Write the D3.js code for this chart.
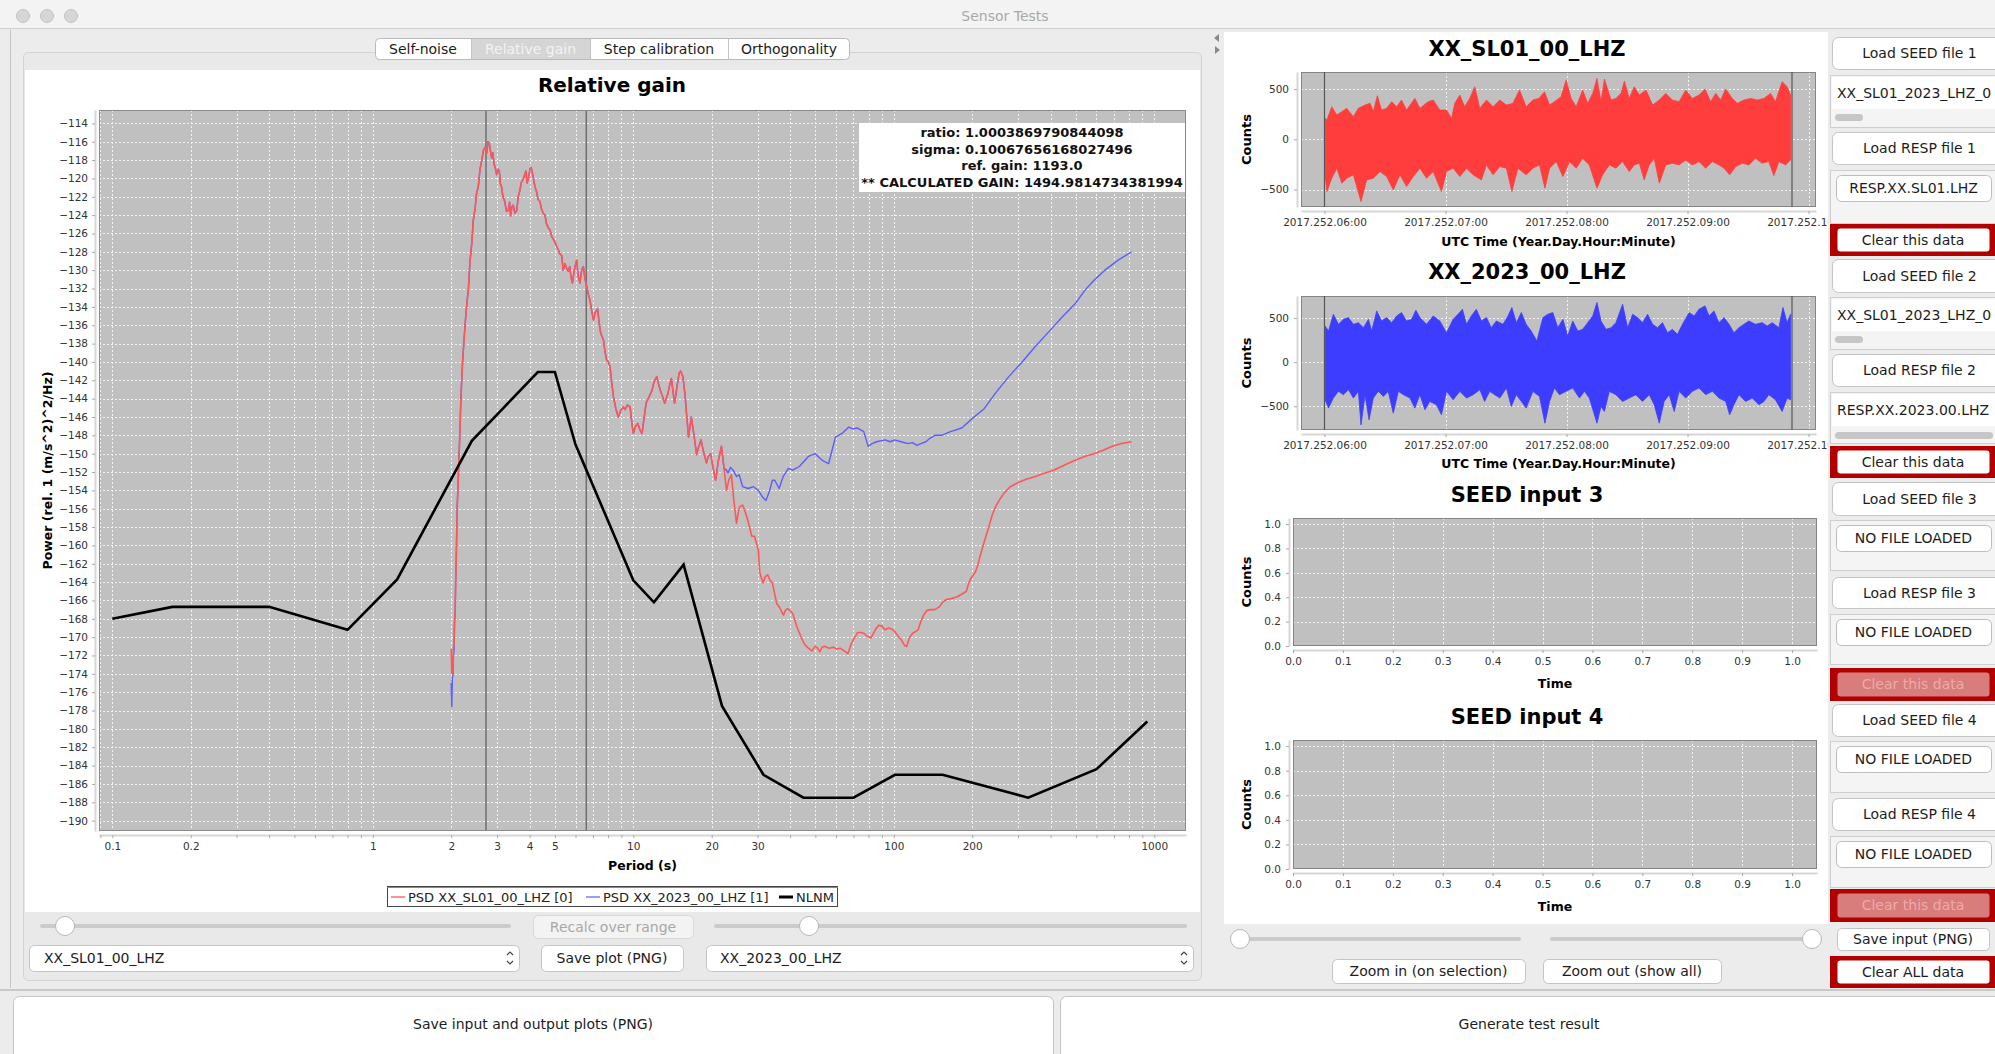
<!DOCTYPE html>
<html>
<head>
<meta charset="utf-8">
<script src="https://cdn.jsdelivr.net/npm/d3@7"></script>
<style>
body{margin:0;background:#ececec;overflow:hidden}
svg{display:block;font-family:"DejaVu Sans",sans-serif}
</style>
</head>
<body>
<script>
// ---- PSD data, period (s) / power (dB) ----
var redStart = [[2.00,-171.3],[2.01,-173.9],[2.02,-172.2],[2.03,-174.0],[2.04,-171.0],[2.05,-170.9],[2.06,-168.0]];
var blueStart = [[2.00,-175.0],[2.01,-177.6],[2.02,-174.5],[2.03,-174.2],[2.04,-172.0],[2.05,-171.4],[2.06,-168.4]];
// both sensors overlap here
var psdShared = [[2.07,-167.6],[2.08,-164.0],[2.09,-161.8],[2.10,-158.5],[2.11,-155.7],[2.13,-152.5],[2.14,-150.8],[2.16,-147.6],[2.17,-145.5],[2.19,-142.5],[2.21,-140.1],[2.23,-138.4],[2.26,-136.0],[2.29,-134.0],[2.33,-131.9],[2.36,-129.1],[2.40,-127.0],[2.43,-124.6],[2.47,-123.3],[2.50,-121.7],[2.54,-120.9],[2.58,-119.0],[2.62,-118.0],[2.66,-116.9],[2.70,-116.6],[2.74,-117.2],[2.77,-116.0],[2.80,-116.2],[2.83,-117.0],[2.86,-117.8],[2.89,-117.2],[2.92,-118.4],[2.96,-119.0],[2.99,-119.6],[3.03,-119.0],[3.06,-119.2],[3.09,-120.6],[3.12,-120.9],[3.16,-122.0],[3.21,-122.5],[3.26,-123.6],[3.31,-123.5],[3.35,-122.6],[3.38,-124.1],[3.42,-123.1],[3.46,-122.9],[3.51,-123.8],[3.57,-123.5],[3.62,-121.9],[3.67,-121.3],[3.72,-120.4],[3.78,-120.1],[3.83,-119.6],[3.87,-119.2],[3.91,-120.5],[3.95,-120.1],[4.01,-119.0],[4.05,-118.8],[4.10,-119.4],[4.15,-120.2],[4.19,-120.9],[4.25,-121.4],[4.31,-122.3],[4.38,-122.5],[4.44,-123.3],[4.51,-123.8],[4.58,-124.0],[4.64,-124.9],[4.72,-125.4],[4.79,-125.6],[4.86,-126.3],[4.93,-126.6],[5.01,-127.0],[5.08,-127.4],[5.16,-127.8],[5.22,-128.2],[5.31,-128.4],[5.38,-130.0],[5.47,-129.3],[5.55,-129.8],[5.63,-130.1],[5.70,-129.6],[5.77,-130.8],[5.84,-131.4],[5.92,-130.2],[6.00,-129.4],[6.06,-128.9],[6.14,-130.6],[6.24,-131.4],[6.33,-130.0],[6.43,-129.6],[6.53,-131.0],[6.63,-131.8],[6.72,-132.6],[6.82,-133.3],[6.93,-134.5],[7.03,-135.4],[7.15,-134.6],[7.29,-134.2],[7.40,-135.8],[7.50,-136.9],[7.58,-137.2],[7.68,-137.6],[7.80,-139.0],[7.90,-139.8],[8.02,-140.0],[8.14,-140.5],[8.26,-142.2],[8.39,-143.8],[8.57,-145.1],[8.76,-146.0],[8.95,-145.3],[9.15,-144.9],[9.30,-145.2],[9.49,-144.7],[9.72,-144.9],[9.86,-146.5],[10.0,-147.8],[10.2,-147.0],[10.4,-146.7],[10.6,-147.4],[10.8,-147.8],[11.0,-146.1],[11.2,-144.5],[11.5,-143.8],[11.8,-143.1],[12.0,-142.2],[12.3,-141.6],[12.5,-142.4],[12.7,-143.1],[13.0,-143.9],[13.2,-144.5],[13.4,-143.9],[13.6,-143.4],[13.8,-142.5],[14.0,-141.8],[14.2,-143.2],[14.4,-144.5],[14.7,-142.8],[15.0,-141.2],[15.2,-141.0],[15.5,-141.6],[15.8,-143.6],[16.0,-145.6],[16.3,-148.2],[16.7,-146.0],[17.1,-148.0],[17.5,-150.1],[17.8,-149.3],[18.2,-148.5],[18.6,-149.8],[19.1,-151.0],[19.4,-150.3],[19.8,-150.0],[20.2,-151.4],[20.7,-152.9],[21.2,-150.8],[21.8,-149.2],[22.3,-151.6]];
var redTail = [[22.8,-154.0],[23.3,-152.8],[23.8,-152.3],[24.3,-155.0],[24.9,-157.6],[25.3,-156.4],[25.6,-155.8],[26.3,-155.6],[27.0,-156.5],[27.6,-157.4],[28.5,-159.0],[29.2,-159.0],[30.2,-160.5],[30.6,-163.0],[31.1,-163.6],[31.5,-164.1],[32.1,-163.4],[32.8,-163.2],[33.5,-163.8],[34.2,-164.1],[35.5,-166.3],[36.5,-166.8],[37.7,-167.6],[38.5,-167.0],[39.2,-166.9],[40.9,-167.4],[42.5,-168.9],[44.2,-170.1],[45.5,-170.8],[47.0,-171.2],[48.5,-171.5],[49.9,-171.0],[51.0,-171.2],[52.0,-171.6],[53.0,-171.1],[54.2,-171.0],[56.5,-171.2],[58.6,-171.1],[60.5,-171.3],[62.2,-171.2],[64.5,-171.5],[66.7,-171.8],[68.5,-170.8],[69.9,-170.3],[72.6,-169.5],[75.0,-169.5],[77.0,-169.6],[79.0,-169.9],[81.6,-170.1],[84.9,-169.2],[87.5,-168.7],[90.0,-168.8],[92.5,-169.2],[95.4,-169.0],[98.0,-169.1],[100.9,-169.4],[104.0,-169.9],[106.9,-170.3],[110.0,-170.9],[112.1,-171.0],[115.0,-170.0],[118.0,-169.6],[124.0,-169.2],[127.0,-168.3],[130.2,-167.6],[134.0,-167.1],[138.3,-167.0],[143.5,-167.0],[149.6,-166.7],[154.0,-166.2],[158.7,-165.9],[166.0,-165.8],[175.3,-165.6],[183.0,-165.3],[189.9,-165.0],[193.5,-164.2],[197.7,-163.6],[205.7,-162.9],[210.0,-162.2],[214.3,-161.2],[222.5,-159.6],[231.6,-158.0],[238.0,-156.8],[245.6,-155.8],[255.0,-155.0],[265.0,-154.3],[280.0,-153.6],[298.0,-153.2],[322.0,-152.8],[350.0,-152.5],[380.0,-152.1],[411.0,-151.8],[455.0,-151.2],[499.0,-150.7],[540.0,-150.3],[587.0,-150.0],[640.0,-149.6],[690.0,-149.2],[750.0,-148.9],[818.0,-148.7]];
var blueTail = [[22.8,-151.8],[23.1,-152.1],[23.6,-151.5],[24.2,-151.8],[24.9,-152.5],[25.5,-152.3],[26.3,-153.6],[27.6,-153.8],[28.9,-153.6],[30.2,-154.0],[31.3,-154.7],[32.3,-155.1],[33.3,-154.1],[34.2,-152.9],[34.9,-152.9],[36.3,-153.8],[37.6,-152.5],[39.4,-151.6],[40.9,-151.8],[43.4,-151.4],[45.0,-150.9],[47.0,-150.3],[49.9,-150.0],[53.0,-150.7],[56.2,-151.1],[58.0,-149.6],[59.7,-148.2],[63.3,-147.8],[67.2,-147.1],[69.5,-147.3],[72.3,-147.2],[76.7,-147.6],[79.7,-149.2],[82.5,-148.9],[85.8,-148.7],[92.6,-148.5],[97.0,-148.7],[100.6,-148.5],[106.7,-148.7],[113.3,-148.9],[118.0,-148.8],[122.6,-149.1],[127.0,-148.9],[132.8,-148.7],[138.0,-148.3],[143.8,-148.0],[152.6,-148.0],[165.1,-147.6],[182.4,-147.2],[201.4,-146.1],[222.4,-145.1],[245.6,-143.4],[276.4,-141.6],[311.0,-140.0],[350.0,-138.3],[394.0,-136.7],[443.0,-135.1],[499.0,-133.6],[541.0,-132.2],[587.0,-131.1],[646.0,-130.0],[727.0,-128.9],[818.0,-128.0]];
// NLNM
var nlnmPeriod = [0.1,0.17,0.4,0.8,1.24,2.4,4.3,5.0,6.0,10.0,12.0,15.6,21.9,31.6,45,70,101,154,328,600,940];
var nlnmPower = [-168.0,-166.7,-166.7,-169.2,-163.7,-148.6,-141.1,-141.1,-149.0,-163.8,-166.2,-162.1,-177.5,-185.0,-187.5,-187.5,-185.0,-185.0,-187.5,-184.4,-179.2];
var rangeMarkers = [2.72, 6.6];
var periodLabels = [0.1,0.2,1,2,3,4,5,10,20,30,100,200,1000];
var resultLines = ["ratio: 1.0003869790844098","sigma: 0.10067656168027496","ref. gain: 1193.0","** CALCULATED GAIN: 1494.9814734381994"];
var legendNames = ["PSD XX_SL01_00_LHZ [0]","PSD XX_2023_00_LHZ [1]","NLNM"];

// ---- input traces: envelope [minutes after 2017.252.06:00, counts] ----
var redTop = [[0.3,209],[1.2,192],[3.6,324],[6.1,242],[8.6,275],[11.0,308],[14.3,225],[16.8,308],[20.1,341],[22.6,358],[24.2,275],[26.2,434],[28.3,291],[30.8,308],[33.3,374],[35.8,324],[38.2,391],[40.7,291],[44.8,407],[47.3,308],[51.4,374],[53.9,391],[57.2,291],[60.5,291],[63.0,209],[64.6,358],[67.1,440],[69.5,324],[72.0,407],[74.5,523],[77.0,308],[80.3,391],[83.6,324],[86.9,391],[90.2,341],[93.4,358],[96.7,490],[100.0,324],[103.3,391],[106.3,407],[109.1,473],[111.6,341],[114.0,374],[117.3,424],[119.8,589],[122.3,407],[124.8,324],[128.0,490],[130.5,358],[133.0,457],[135.1,606],[137.1,374],[138.8,599],[142.1,391],[144.5,407],[147.0,457],[148.7,579],[151.1,407],[153.6,523],[156.1,440],[159.4,490],[162.7,341],[166.0,391],[169.2,457],[172.5,391],[175.8,374],[179.1,490],[182.4,407],[185.7,440],[188.7,500],[191.5,374],[194.0,457],[196.4,391],[198.9,500],[202.2,407],[204.7,358],[208.0,391],[211.3,407],[214.6,391],[217.9,407],[221.2,457],[223.6,374],[226.9,573],[229.4,523],[231.1,440]];
var redBottom = [[0.3,-354],[1.2,-520],[3.6,-387],[6.1,-288],[8.6,-437],[11.0,-387],[14.3,-354],[18.1,-619],[20.9,-404],[24.2,-387],[27.5,-321],[30.8,-371],[34.1,-503],[37.4,-354],[40.7,-470],[44.0,-371],[47.3,-288],[50.6,-387],[53.9,-321],[58.0,-520],[60.5,-321],[63.8,-288],[67.1,-371],[70.4,-288],[73.7,-354],[77.8,-404],[80.3,-255],[83.6,-354],[86.9,-272],[90.2,-288],[92.9,-520],[95.9,-288],[100.0,-354],[103.3,-288],[106.6,-255],[109.3,-487],[111.6,-288],[114.9,-222],[118.2,-371],[121.5,-222],[124.8,-288],[128.0,-189],[131.3,-255],[135.1,-487],[137.9,-354],[141.2,-255],[144.5,-288],[147.8,-222],[151.1,-321],[153.6,-255],[156.1,-238],[158.5,-404],[161.0,-255],[163.5,-189],[166.0,-437],[169.2,-255],[172.5,-238],[175.8,-255],[179.1,-205],[182.4,-255],[185.7,-222],[189.0,-288],[192.3,-222],[195.6,-255],[198.1,-288],[200.9,-354],[203.9,-272],[207.2,-238],[210.4,-255],[213.7,-189],[217.0,-238],[220.3,-222],[222.8,-361],[225.3,-222],[228.6,-255],[231.1,-205]];
var blueTop = [[0.3,410],[2.0,353],[4.4,543],[6.9,429],[9.4,486],[11.9,505],[14.3,429],[16.8,448],[19.3,391],[21.8,486],[23.4,353],[25.9,581],[28.3,467],[30.8,505],[33.3,448],[35.8,524],[38.2,562],[40.7,467],[43.2,486],[45.3,589],[47.3,505],[50.6,429],[53.9,524],[57.2,467],[60.5,334],[63.8,486],[66.2,543],[68.4,600],[70.4,429],[72.8,524],[75.3,600],[77.8,467],[80.3,505],[82.7,391],[85.2,467],[88.5,429],[91.0,524],[92.9,619],[95.1,448],[97.6,562],[100.0,429],[102.5,353],[105.3,239],[108.3,505],[110.7,543],[113.2,562],[115.7,391],[118.2,486],[120.6,296],[123.1,467],[125.6,353],[128.0,372],[130.5,448],[133.0,524],[135.1,676],[137.1,467],[139.6,372],[142.1,391],[144.5,448],[147.8,657],[150.3,391],[152.8,543],[155.2,505],[157.7,448],[160.2,543],[162.7,429],[165.1,391],[167.6,448],[170.1,334],[172.5,372],[175.0,315],[177.5,429],[180.8,562],[183.3,524],[185.7,600],[188.7,638],[190.7,524],[193.1,581],[195.6,448],[198.1,505],[200.6,429],[203.0,334],[205.5,391],[208.0,429],[210.4,467],[213.7,429],[217.0,448],[219.5,410],[222.0,448],[225.3,391],[227.3,619],[229.4,448],[231.1,543]];
var blueBottom = [[0.3,-426],[2.0,-521],[4.4,-407],[6.9,-331],[9.4,-369],[11.9,-312],[14.3,-407],[16.8,-331],[18.1,-711],[20.1,-369],[22.1,-654],[24.2,-407],[26.7,-331],[29.2,-388],[31.6,-331],[34.1,-578],[36.6,-331],[39.1,-369],[42.4,-407],[44.8,-521],[47.3,-369],[49.8,-540],[52.2,-445],[55.5,-483],[58.0,-597],[60.5,-331],[63.8,-426],[67.1,-331],[70.4,-407],[73.7,-369],[77.0,-312],[79.4,-445],[81.9,-331],[84.4,-369],[86.9,-407],[90.2,-293],[92.6,-502],[95.1,-369],[97.6,-445],[100.0,-521],[103.3,-331],[106.6,-388],[109.3,-692],[111.6,-445],[114.0,-293],[116.5,-369],[119.8,-331],[123.1,-293],[126.4,-407],[128.9,-331],[131.3,-407],[135.1,-692],[137.1,-502],[138.8,-559],[141.2,-331],[144.5,-369],[147.8,-445],[151.1,-407],[154.4,-369],[157.7,-445],[161.0,-369],[163.5,-483],[166.0,-692],[168.4,-445],[170.9,-369],[173.4,-559],[175.8,-331],[179.1,-407],[182.4,-331],[185.7,-293],[189.0,-369],[192.3,-331],[195.6,-407],[198.9,-445],[200.9,-597],[203.0,-483],[205.5,-369],[208.8,-445],[212.1,-407],[215.4,-483],[217.9,-445],[220.3,-369],[223.6,-426],[226.9,-559],[229.4,-407],[231.1,-426]];
var traceMarkers = [0, 231.8];
var countTicks = [-500, 0, 500];
var unitTicks = [0,0.1,0.2,0.3,0.4,0.5,0.6,0.7,0.8,0.9,1.0];
var unitYTicks = [0,0.2,0.4,0.6,0.8,1.0];

var startTime = Date.UTC(2017, 8, 9, 6, 0); // 2017, day 252
function toDate(m){ return new Date(startTime + m * 60000); }

var svg = d3.select("body").append("svg").attr("width", 1995).attr("height", 1054);
var tickFont = "10.5px";
var uiFont = "14px";

// ---------- window chrome ----------
svg.append("rect").attr("width", 1995).attr("height", 1054).attr("fill", "#ececec");
svg.append("rect").attr("width", 1995).attr("height", 28).attr("fill", "#f3f3f3");
svg.append("line").attr("x1", 0).attr("x2", 1995).attr("y1", 28.5).attr("y2", 28.5).attr("stroke", "#cfcfcf");
[23, 47, 71].forEach(function(cx){
    svg.append("circle").attr("cx", cx).attr("cy", 16).attr("r", 6.5).attr("fill", "#d6d6d6").attr("stroke", "#c2c2c2");
});
svg.append("text").attr("x", 1005).attr("y", 21).attr("text-anchor", "middle")
    .attr("font-size", "14px").attr("fill", "#a9a9a9").text("Sensor Tests");

svg.append("line").attr("x1", 10.5).attr("x2", 10.5).attr("y1", 30).attr("y2", 988).attr("stroke", "#c4c4c4");

// tab pane + white chart panel
svg.append("rect").attr("x", 23.5).attr("y", 52.5).attr("width", 1178).attr("height", 928).attr("rx", 5)
    .attr("fill", "#e9e9e9").attr("stroke", "#d2d2d2");
svg.append("rect").attr("x", 25).attr("y", 70).attr("width", 1175).attr("height", 842).attr("fill", "#ffffff");

// tabs
var tabs = [["Self-noise",375,471],["Relative gain",471,590],["Step calibration",590,728],["Orthogonality",728,850]];
svg.append("rect").attr("x", 375.5).attr("y", 38.5).attr("width", 474).attr("height", 21).attr("rx", 4)
    .attr("fill", "#ffffff").attr("stroke", "#b9b9b9");
svg.append("rect").attr("x", 471).attr("y", 39).attr("width", 119).attr("height", 20).attr("fill", "#d5d5d5");
tabs.forEach(function(t, i){
    if (i > 0) svg.append("line").attr("x1", t[1] + 0.5).attr("x2", t[1] + 0.5).attr("y1", 39).attr("y2", 59).attr("stroke", "#c4c4c4");
    svg.append("text").attr("x", (t[1] + t[2]) / 2).attr("y", 54).attr("text-anchor", "middle")
        .attr("font-size", uiFont).attr("fill", i == 1 ? "#f2f2f2" : "#1c1c1c").text(t[0]);
});

// ---------- main chart: Relative gain ----------
var plot = {left: 99, top: 110, right: 1186, bottom: 831};
var mainX = d3.scaleLog().domain([0.0889, 1323.6]).range([plot.left, plot.right]);
var mainY = d3.scaleLinear().domain([-191.13, -112.54]).range([plot.bottom, plot.top]);

svg.append("text").attr("x", 612).attr("y", 92).attr("text-anchor", "middle")
    .attr("font-size", "20px").attr("font-weight", "bold").text("Relative gain");

svg.append("clipPath").attr("id", "mainClip").append("rect")
    .attr("x", plot.left).attr("y", plot.top).attr("width", plot.right - plot.left).attr("height", plot.bottom - plot.top);

svg.append("rect").attr("x", plot.left).attr("y", plot.top)
    .attr("width", plot.right - plot.left).attr("height", plot.bottom - plot.top).attr("fill", "#c0c0c0");

var xTicks = mainX.ticks().filter(function(d){ return d >= 0.0889 && d <= 1323.6; });
var yTicks = d3.range(-190, -113, 2);

var grid = svg.append("g").attr("stroke", "#ffffff").attr("stroke-dasharray", "2,2").attr("stroke-width", 1).attr("opacity", 0.8);
grid.selectAll(".vx").data(xTicks).enter().append("line")
    .attr("x1", function(d){ return Math.round(mainX(d)) + 0.5; }).attr("x2", function(d){ return Math.round(mainX(d)) + 0.5; })
    .attr("y1", plot.top).attr("y2", plot.bottom);
grid.selectAll(".hy").data(yTicks).enter().append("line")
    .attr("y1", function(d){ return Math.round(mainY(d)) + 0.5; }).attr("y2", function(d){ return Math.round(mainY(d)) + 0.5; })
    .attr("x1", plot.left).attr("x2", plot.right);

var marks = svg.append("g").attr("clip-path", "url(#mainClip)");
marks.selectAll(".marker").data(rangeMarkers).enter().append("line")
    .attr("x1", function(d){ return mainX(d); }).attr("x2", function(d){ return mainX(d); })
    .attr("y1", plot.top).attr("y2", plot.bottom).attr("stroke", "#6f6f6f").attr("stroke-width", 1.5);

var psdLine = d3.line().x(function(d){ return mainX(d[0]); }).y(function(d){ return mainY(d[1]); });
var bluePSD = blueStart.concat(psdShared, blueTail);
var redPSD = redStart.concat(psdShared, redTail);
var nlnm = nlnmPeriod.map(function(p, i){ return [p, nlnmPower[i]]; });

marks.append("path").datum(bluePSD).attr("d", psdLine).attr("fill", "none")
    .attr("stroke", "#5c5cff").attr("stroke-width", 1.4).attr("stroke-linejoin", "round");
marks.append("path").datum(redPSD).attr("d", psdLine).attr("fill", "none")
    .attr("stroke", "#ff5757").attr("stroke-width", 1.6).attr("stroke-linejoin", "round");
marks.append("path").datum(nlnm).attr("d", psdLine).attr("fill", "none")
    .attr("stroke", "#000000").attr("stroke-width", 2.6).attr("stroke-linejoin", "miter");

svg.append("rect").attr("x", plot.left + 0.5).attr("y", plot.top + 0.5)
    .attr("width", plot.right - plot.left - 1).attr("height", plot.bottom - plot.top - 1)
    .attr("fill", "none").attr("stroke", "#8a8a8a");

function styleAxis(g){
    g.select(".domain").attr("stroke", "#d6d6d6").attr("stroke-width", 2);
    g.selectAll(".tick line").attr("stroke", "#a8a8a8");
    g.selectAll(".tick text").attr("font-family", "DejaVu Sans").attr("font-size", tickFont).attr("fill", "#333");
}

var labelled = function(d){
    return periodLabels.some(function(v){ return Math.abs(v - d) < 1e-9 * Math.max(1, v); });
};
var xAxis = svg.append("g").attr("transform", "translate(0," + (plot.bottom + 4) + ")")
    .call(d3.axisBottom(mainX).tickValues(xTicks).tickSizeInner(3).tickSizeOuter(0).tickPadding(5)
        .tickFormat(function(d){ return labelled(d) ? d3.format("~g")(d) : ""; }));
styleAxis(xAxis);
var yAxis = svg.append("g").attr("transform", "translate(" + (plot.left - 4) + ",0)")
    .call(d3.axisLeft(mainY).tickValues(yTicks).tickSizeInner(3).tickSizeOuter(0).tickPadding(4));
styleAxis(yAxis);

svg.append("text").attr("x", (plot.left + plot.right) / 2).attr("y", 869.5).attr("text-anchor", "middle")
    .attr("font-size", "12.5px").attr("font-weight", "bold").text("Period (s)");
svg.append("text").attr("transform", "translate(51.5," + (plot.top + plot.bottom) / 2 + ") rotate(-90)")
    .attr("text-anchor", "middle").attr("font-size", "12.5px").attr("font-weight", "bold")
    .text("Power (rel. 1 (m/s^2)^2/Hz)");

// result text box
svg.append("rect").attr("x", 859).attr("y", 123).attr("width", 326).attr("height", 69).attr("fill", "#ffffff");
svg.selectAll(".result").data(resultLines).enter().append("text")
    .attr("x", 1022).attr("y", function(d, i){ return 137 + i * 16.5; }).attr("text-anchor", "middle")
    .attr("font-size", "13px").attr("font-weight", "bold").attr("fill", "#111").text(function(d){ return d; });

// legend
var legendItems = [
    {name: legendNames[0], color: "#ff6b6b", w: 1.5, x: 391},
    {name: legendNames[1], color: "#7b7bff", w: 1.5, x: 586},
    {name: legendNames[2], color: "#000000", w: 3, x: 779}
];
svg.append("rect").attr("x", 387.5).attr("y", 886.5).attr("width", 450).attr("height", 20)
    .attr("fill", "#ffffff").attr("stroke", "#444").attr("stroke-width", 1);
svg.append("line").attr("x1", 387).attr("x2", 838).attr("y1", 887.5).attr("y2", 887.5).attr("stroke", "#888");
legendItems.forEach(function(it){
    svg.append("line").attr("x1", it.x).attr("x2", it.x + 14).attr("y1", 897).attr("y2", 897)
        .attr("stroke", it.color).attr("stroke-width", it.w);
    svg.append("text").attr("x", it.x + 17).attr("y", 901.5).attr("font-size", "13px").attr("fill", "#222").text(it.name);
});

// ---------- controls below main chart ----------
function slider(x0, x1, y, knob){
    svg.append("line").attr("x1", x0).attr("x2", x1).attr("y1", y).attr("y2", y)
        .attr("stroke", "#cbcbcb").attr("stroke-width", 4).attr("stroke-linecap", "round");
    svg.append("circle").attr("cx", knob).attr("cy", y).attr("r", 9.5).attr("fill", "#ffffff").attr("stroke", "#b8b8b8");
}
function button(x, y, w, h, label, opt){
    opt = opt || {};
    svg.append("rect").attr("x", x + 0.5).attr("y", y + 0.5).attr("width", w).attr("height", h).attr("rx", opt.rx || 5)
        .attr("fill", opt.fill || "#ffffff").attr("stroke", opt.stroke || "#c4c4c4");
    svg.append("text").attr("x", opt.tx || x + w / 2).attr("y", opt.ty || y + h / 2 + 5)
        .attr("text-anchor", opt.anchor || "middle").attr("font-size", opt.size || uiFont)
        .attr("fill", opt.color || "#1c1c1c").text(label);
}
function chevrons(x, y){
    svg.append("path").attr("d", "M" + (x - 3) + "," + (y - 3) + "L" + x + "," + (y - 6) + "L" + (x + 3) + "," + (y - 3)
        + "M" + (x - 3) + "," + (y + 3) + "L" + x + "," + (y + 6) + "L" + (x + 3) + "," + (y + 3))
        .attr("fill", "none").attr("stroke", "#444").attr("stroke-width", 1.2);
}
slider(42, 509, 926, 65);
button(533, 915, 160, 23, "Recalc over range", {fill: "#f3f3f3", stroke: "#d8d8d8", color: "#a8a8a8"});
slider(716, 1185, 926, 809);
button(29, 945, 490, 26, "XX_SL01_00_LHZ", {anchor: "start", tx: 44});
chevrons(510, 958);
button(541, 945, 142, 26, "Save plot (PNG)");
button(706, 945, 487, 26, "XX_2023_00_LHZ", {anchor: "start", tx: 720});
chevrons(1184, 958);

// ---------- right side: input panel ----------
svg.append("rect").attr("x", 1203).attr("y", 30).attr("width", 21).attr("height", 958).attr("fill", "#ececec");
svg.append("path").attr("d", "M1219,34L1214,38L1219,42Z M1215,46L1220,50L1215,54Z").attr("fill", "#8a8a8a");
svg.append("rect").attr("x", 1224).attr("y", 32).attr("width", 604).attr("height", 892).attr("fill", "#ffffff");

function traceChart(cfg){
    var x = d3.scaleUtc().domain([toDate(-11.65), toDate(243.7)]).range([cfg.left, cfg.right]);
    var y = d3.scaleLinear().domain(cfg.yDomain).range([cfg.bottom, cfg.top]);
    drawFrame(cfg, x, y, d3.utcHour.every(1), countTicks);
    var g = svg.append("g");
    var pts = cfg.topData.concat(cfg.bottomData.slice().reverse());
    g.append("path").datum(pts)
        .attr("d", d3.line().x(function(d){ return x(toDate(d[0])); }).y(function(d){ return y(d[1]); }))
        .attr("fill", cfg.color).attr("stroke", cfg.color).attr("stroke-width", 0.8).attr("stroke-linejoin", "miter");
    g.selectAll(".tm").data(traceMarkers).enter().append("line")
        .attr("x1", function(d){ return x(toDate(d)); }).attr("x2", function(d){ return x(toDate(d)); })
        .attr("y1", cfg.top).attr("y2", cfg.bottom).attr("stroke", "#555").attr("stroke-width", 1.2);
    var xa = svg.append("g").attr("transform", "translate(0," + (cfg.bottom + 4) + ")")
        .call(d3.axisBottom(x).ticks(d3.utcHour.every(1)).tickFormat(d3.utcFormat("%Y.%j.%H:%M"))
            .tickSizeInner(3).tickSizeOuter(0).tickPadding(5));
    styleAxis(xa);
    var ya = svg.append("g").attr("transform", "translate(" + (cfg.left - 4) + ",0)")
        .call(d3.axisLeft(y).tickValues(countTicks).tickFormat(d3.format("d")).tickSizeInner(3).tickSizeOuter(0).tickPadding(5));
    styleAxis(ya);
    labels(cfg, "UTC Time (Year.Day.Hour:Minute)");
}

function emptyChart(cfg){
    var x = d3.scaleLinear().domain([0, 1.05]).range([cfg.left, cfg.right]);
    var y = d3.scaleLinear().domain([0, 1.05]).range([cfg.bottom, cfg.top]);
    drawFrame(cfg, x, y, unitTicks, unitYTicks);
    var xa = svg.append("g").attr("transform", "translate(0," + (cfg.bottom + 4) + ")")
        .call(d3.axisBottom(x).tickValues(unitTicks).tickFormat(d3.format(".1f")).tickSizeInner(3).tickSizeOuter(0).tickPadding(5));
    styleAxis(xa);
    var ya = svg.append("g").attr("transform", "translate(" + (cfg.left - 4) + ",0)")
        .call(d3.axisLeft(y).tickValues(unitYTicks).tickFormat(d3.format(".1f")).tickSizeInner(3).tickSizeOuter(0).tickPadding(5));
    styleAxis(ya);
    labels(cfg, "Time");
}

function drawFrame(cfg, x, y, xt, yt){
    svg.append("text").attr("x", 1527).attr("y", cfg.titleY).attr("text-anchor", "middle")
        .attr("font-size", "21px").attr("font-weight", "bold").text(cfg.title);
    svg.append("rect").attr("x", cfg.left).attr("y", cfg.top).attr("width", cfg.right - cfg.left)
        .attr("height", cfg.bottom - cfg.top).attr("fill", "#c0c0c0");
    var vx = Array.isArray(xt) ? xt : x.ticks(xt);
    var gg = svg.append("g").attr("stroke", "#ffffff").attr("stroke-dasharray", "2,2").attr("opacity", 0.8);
    gg.selectAll(".v").data(vx).enter().append("line")
        .attr("x1", function(d){ return Math.round(x(d)) + 0.5; }).attr("x2", function(d){ return Math.round(x(d)) + 0.5; })
        .attr("y1", cfg.top).attr("y2", cfg.bottom);
    gg.selectAll(".h").data(yt).enter().append("line")
        .attr("y1", function(d){ return Math.round(y(d)) + 0.5; }).attr("y2", function(d){ return Math.round(y(d)) + 0.5; })
        .attr("x1", cfg.left).attr("x2", cfg.right);
    svg.append("rect").attr("x", cfg.left + 0.5).attr("y", cfg.top + 0.5)
        .attr("width", cfg.right - cfg.left - 1).attr("height", cfg.bottom - cfg.top - 1)
        .attr("fill", "none").attr("stroke", "#858585");
}

function labels(cfg, xLabel){
    svg.append("text").attr("x", (cfg.left + cfg.right) / 2).attr("y", cfg.xLabelY).attr("text-anchor", "middle")
        .attr("font-size", "12.5px").attr("font-weight", "bold").text(xLabel);
    svg.append("text").attr("transform", "translate(1251," + (cfg.top + cfg.bottom) / 2 + ") rotate(-90)")
        .attr("text-anchor", "middle").attr("font-size", "13px").attr("font-weight", "bold").text("Counts");
}

traceChart({title: "XX_SL01_00_LHZ", titleY: 56, left: 1301, right: 1816, top: 72, bottom: 207,
    yDomain: [-674, 670], topData: redTop, bottomData: redBottom, color: "#ff3d3d", xLabelY: 245.5});
traceChart({title: "XX_2023_00_LHZ", titleY: 279, left: 1301, right: 1816, top: 296, bottom: 430,
    yDomain: [-769, 750], topData: blueTop, bottomData: blueBottom, color: "#3d3dff", xLabelY: 467.5});
emptyChart({title: "SEED input 3", titleY: 502, left: 1293, right: 1817, top: 518, bottom: 646, xLabelY: 688});
emptyChart({title: "SEED input 4", titleY: 724, left: 1293, right: 1817, top: 740, bottom: 869, xLabelY: 911});

// bottom controls of input panel
slider(1240, 1519, 939, 1240);
slider(1552, 1812, 939, 1812);
button(1332, 959, 193, 24, "Zoom in (on selection)");
button(1543, 959, 178, 24, "Zoom out (show all)");

// right column of buttons
svg.append("rect").attr("x", 1828).attr("y", 30).attr("width", 167).attr("height", 960).attr("fill", "#ececec");
var column = [
    ["btn", 37, 69, "Load SEED file 1"], ["scroll", 75, 127, "XX_SL01_2023_LHZ_0"],
    ["btn", 132, 164, "Load RESP file 1"], ["box", 170, 223, "RESP.XX.SL01.LHZ"],
    ["red", 224, 256, "Clear this data"],
    ["btn", 259, 292, "Load SEED file 2"], ["scroll", 297, 349, "XX_SL01_2023_LHZ_0"],
    ["btn", 354, 386, "Load RESP file 2"], ["wide", 392, 443, "RESP.XX.2023.00.LHZ"],
    ["red", 446, 478, "Clear this data"],
    ["btn", 482, 515, "Load SEED file 3"], ["box", 520, 570, "NO FILE LOADED"],
    ["btn", 577, 608, "Load RESP file 3"], ["box", 614, 664, "NO FILE LOADED"],
    ["redoff", 668, 701, "Clear this data"],
    ["btn", 704, 736, "Load SEED file 4"], ["box", 741, 792, "NO FILE LOADED"],
    ["btn", 798, 830, "Load RESP file 4"], ["box", 836, 887, "NO FILE LOADED"],
    ["redoff", 889, 922, "Clear this data"],
    ["small", 928, 950, "Save input (PNG)"],
    ["red", 956, 988, "Clear ALL data"]
];
column.forEach(function(c){
    var t = c[0], y0 = c[1], y1 = c[2], h = y1 - y0;
    if (t == "btn") {
        button(1832, y0, 175, h, c[3], {rx: 6});
    } else if (t == "small") {
        button(1837, y0, 152, h, c[3], {rx: 4});
    } else if (t == "red" || t == "redoff") {
        svg.append("rect").attr("x", 1830).attr("y", y0).attr("width", 170).attr("height", h).attr("fill", "#b20000");
        button(1837, y0 + 4, 152, h - 9, c[3], {rx: 3, stroke: "none",
            fill: t == "red" ? "#ffffff" : "#d97c7c", color: t == "red" ? "#1c1c1c" : "#eeaaaa"});
    } else {
        svg.append("rect").attr("x", 1830.5).attr("y", y0 + 0.5).attr("width", 170).attr("height", h)
            .attr("fill", "#f4f4f4").attr("stroke", "#cfcfcf");
        if (t == "box") {
            button(1836, y0 + 5, 155, 26, c[3], {rx: 0, stroke: "#bdbdbd"});
        } else {
            svg.append("rect").attr("x", 1832).attr("y", y0 + 2).attr("width", 170).attr("height", 32).attr("fill", "#ffffff");
            svg.append("text").attr("x", 1837).attr("y", y0 + 23).attr("font-size", uiFont).attr("fill", "#1c1c1c").text(c[3]);
            if (t == "scroll") {
                svg.append("rect").attr("x", 1835).attr("y", y1 - 13).attr("width", 28).attr("height", 7).attr("rx", 3.5).attr("fill", "#c6c6c6");
            } else {
                svg.append("rect").attr("x", 1835).attr("y", y1 - 11).attr("width", 158).attr("height", 7).attr("rx", 3.5).attr("fill", "#c6c6c6");
            }
        }
    }
});

// ---------- bottom buttons ----------
svg.append("line").attr("x1", 0).attr("x2", 1995).attr("y1", 990).attr("y2", 990).attr("stroke", "#c8c8c8").attr("stroke-width", 2);
button(13, 996, 1040, 70, "Save input and output plots (PNG)", {rx: 6, ty: 1029});
button(1060, 996, 945, 70, "Generate test result", {rx: 6, tx: 1529, ty: 1029});
</script>
</body>
</html>
